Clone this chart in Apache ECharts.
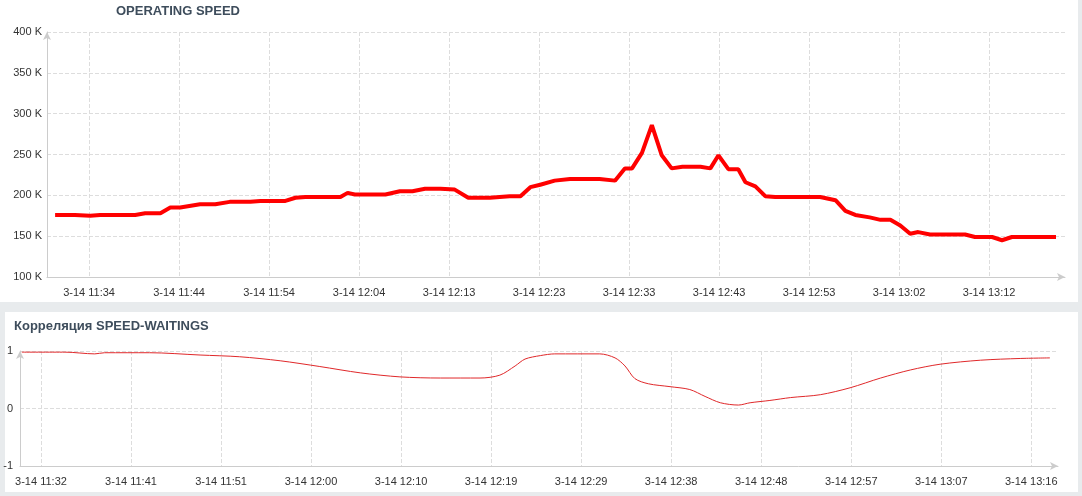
<!DOCTYPE html>
<html>
<head>
  <meta charset="utf-8" />
  <script src="https://cdn.jsdelivr.net/npm/echarts@6"></script>
  <style>
    html, body { margin: 0; padding: 0; background: #e8ebed; }
    #main { width: 1082px; height: 496px; }
  </style>
</head>
<body>
  <div id="main"></div>
  <script>
    // top chart: x = sample position, y = speed in K
    const speedX = [0.9, 3.1, 4.8, 5.9, 9.8, 10.9, 12.6, 13.7, 14.8, 17.0, 18.7, 20.3, 22.6, 23.7, 26.4, 27.6,
      28.7, 32.6, 33.4, 34.2, 37.6, 39.2, 40.6, 42.0, 43.7, 45.3, 46.8, 49.2, 50.3, 51.4, 52.6, 53.7, 54.8,
      56.4, 58.1, 61.4, 63.1, 64.2, 65.0, 66.1, 67.2, 68.3, 69.4, 70.6, 72.6, 73.7, 74.6, 75.7, 76.8, 77.6,
      78.7, 79.8, 80.9, 83.7, 85.9, 87.6, 88.7, 89.8, 91.4, 92.6, 93.7, 94.8, 95.9, 96.8, 98.1, 102.0,
      103.1, 105.0, 106.1, 107.2, 112.1];
    const speedY = [176, 176, 175, 176, 176, 178, 178, 185, 185, 189, 189, 192, 192, 193, 193, 197,
      198, 198, 203, 201, 201, 205, 205, 208, 208, 207, 197, 197, 198, 199, 199, 210, 213,
      218, 220, 220, 218, 233, 233, 252, 286, 249, 233, 235, 235, 233, 249, 232, 232, 216,
      211, 199, 198, 198, 198, 194, 181, 176, 173, 170, 170, 163, 153, 155, 152, 152,
      149, 149, 145, 149, 149];
    const speedTicks = [4.67, 14.67, 24.67, 34.67, 44.67, 54.67, 64.67, 74.67, 84.67, 94.67, 104.67];
    const speedLabels = ['3-14 11:34', '3-14 11:44', '3-14 11:54', '3-14 12:04', '3-14 12:13', '3-14 12:23',
      '3-14 12:33', '3-14 12:43', '3-14 12:53', '3-14 13:02', '3-14 13:12'];

    // bottom chart: correlation
    const corrX = [0.2, 5.0, 8.3, 9.4, 14.4, 20.0, 24.4, 28.9, 33.3, 37.8, 42.2, 46.7, 51.1, 53.3, 55.0, 56.1,
      57.8, 59.4, 64.4, 66.1, 67.2, 68.3, 69.8, 72.2, 74.4, 76.1, 77.8, 79.8, 81.1, 83.3, 85.6, 88.9, 92.2,
      95.6, 98.9, 102.2, 106.7, 111.1, 114.4];
    const corrY = [0.98, 0.98, 0.95, 0.97, 0.97, 0.93, 0.90, 0.83, 0.73, 0.62, 0.55, 0.53, 0.53, 0.58, 0.74, 0.86,
      0.92, 0.95, 0.95, 0.88, 0.74, 0.52, 0.43, 0.38, 0.33, 0.21, 0.10, 0.06, 0.10, 0.14, 0.19, 0.24, 0.36,
      0.53, 0.67, 0.77, 0.84, 0.87, 0.88];
    const corrTicks = [2.33, 12.33, 22.33, 32.33, 42.33, 52.33, 62.33, 72.33, 82.33, 92.33, 102.33, 112.33];
    const corrLabels = ['3-14 11:32', '3-14 11:41', '3-14 11:51', '3-14 12:00', '3-14 12:10', '3-14 12:19',
      '3-14 12:29', '3-14 12:38', '3-14 12:48', '3-14 12:57', '3-14 13:07', '3-14 13:16'];

    const zip = (xs, ys) => xs.map((x, i) => [x, ys[i]]);
    const lbl = (ticks, labels) => v => {
      const i = ticks.findIndex(t => Math.abs(t - v) < 0.01);
      return i >= 0 ? labels[i] : '';
    };
    const axisLine = { onZero: false, lineStyle: { color: '#ccc' }, symbol: ['none', 'arrow'], symbolSize: [6, 8] };
    const split = { show: true, lineStyle: { color: '#ddd', type: 'dashed' } };
    const label = { color: '#333', fontSize: 11, fontFamily: 'Arial' };

    const chart = echarts.init(document.getElementById('main'));
    chart.setOption({
      backgroundColor: '#e8ebed',
      animation: false,
      graphic: [
        { type: 'rect', shape: { x: 0, y: 0, width: 1078, height: 302 }, style: { fill: '#fff' }, z: -10 },
        { type: 'rect', shape: { x: 5, y: 312, width: 1073, height: 180 }, style: { fill: '#fff' }, z: -10 }
      ],
      title: [
        { text: 'OPERATING SPEED', left: 111, top: 0, textStyle: { fontSize: 13, fontWeight: 'bold', color: '#3e4d5c', fontFamily: 'Arial' } },
        { text: 'Корреляция SPEED-WAITINGS', left: 9, top: 315, textStyle: { fontSize: 13, fontWeight: 'bold', color: '#3e4d5c', fontFamily: 'Arial' } }
      ],
      grid: [
        { left: 47, top: 32, width: 1018, height: 245 },
        { left: 20, top: 351, width: 1038, height: 115 }
      ],
      xAxis: [
        { gridIndex: 0, type: 'value', min: 0, max: 113.1, axisLine, splitLine: split,
          axisTick: { show: false, customValues: speedTicks },
          axisLabel: Object.assign({ customValues: speedTicks, formatter: lbl(speedTicks, speedLabels), margin: 10 }, label) },
        { gridIndex: 1, type: 'value', min: 0, max: 115.3, axisLine, splitLine: split,
          axisTick: { show: false, customValues: corrTicks },
          axisLabel: Object.assign({ customValues: corrTicks, formatter: lbl(corrTicks, corrLabels), margin: 10 }, label) }
      ],
      yAxis: [
        { gridIndex: 0, type: 'value', min: 100, max: 400, interval: 50, axisLine: Object.assign({ show: true }, axisLine),
          axisTick: { show: false }, splitLine: split, axisLabel: Object.assign({ formatter: v => v + ' K', margin: 5 }, label) },
        { gridIndex: 1, type: 'value', min: -1, max: 1, interval: 1, axisLine: Object.assign({ show: true }, axisLine),
          axisTick: { show: false }, splitLine: split, axisLabel: Object.assign({ margin: 7 }, label) }
      ],
      series: [
        { type: 'line', xAxisIndex: 0, yAxisIndex: 0, data: zip(speedX, speedY), showSymbol: false,
          lineStyle: { color: '#f00', width: 4 } },
        { type: 'line', xAxisIndex: 1, yAxisIndex: 1, data: zip(corrX, corrY), showSymbol: false, smooth: 0.3,
          lineStyle: { color: '#e0282a', width: 1 } }
      ]
    });
  </script>
</body>
</html>
